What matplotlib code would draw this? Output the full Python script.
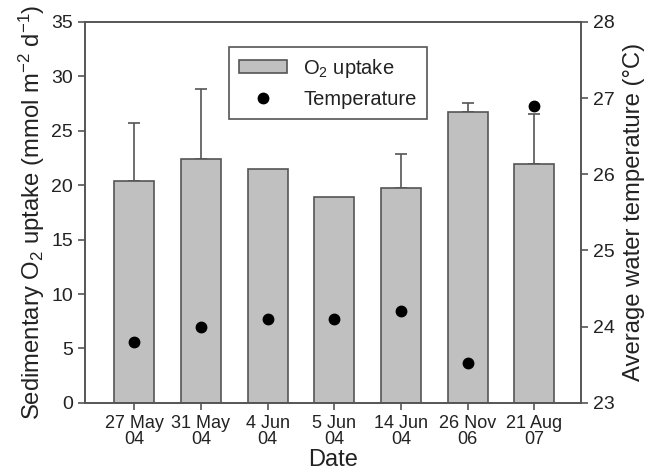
import numpy as np
import matplotlib
matplotlib.use('Agg')
import matplotlib.pyplot as plt

plt.rcParams['font.family'] = ['Liberation Sans', 'DejaVu Sans']
plt.rcParams['mathtext.default'] = 'regular'

dates = ['27 May\n04', '31 May\n04', '4 Jun\n04', '5 Jun\n04',
         '14 Jun\n04', '26 Nov\n06', '21 Aug\n07']
uptake = [20.4, 22.4, 21.5, 18.9, 19.7, 26.7, 21.9]
uptake_err = [5.3, 6.4, 0.0, 0.0, 3.2, 0.8, 4.6]
temperature = [23.80, 24.00, 24.10, 24.10, 24.20, 23.53, 26.90]

edge = '#555555'
text_col = '#222222'

fig, ax = plt.subplots(figsize=(6.58, 4.74), dpi=100)
fig.subplots_adjust(left=0.129, right=0.883, top=0.954, bottom=0.150)

x = np.arange(len(dates))
bars = ax.bar(x, uptake, width=0.6, color='#c0c0c0', edgecolor=edge,
              linewidth=1.2, label='O$_2$ uptake', zorder=2)

# only bars with an error value get a whisker
err = np.array(uptake_err)
has_err = err > 0
ax.errorbar(x[has_err], np.array(uptake)[has_err],
            yerr=[np.zeros(has_err.sum()), err[has_err]], fmt='none',
            ecolor=edge, elinewidth=1.2, capsize=4, capthick=1.2, zorder=1)

ax.set_xlim(-0.74, 6.7)
ax.set_ylim(0, 35)
ax.set_yticks(np.arange(0, 36, 5))
ax.set_xticks(x)
ax.set_xticklabels(dates, fontsize=13, color=text_col, linespacing=0.95)
ax.tick_params(axis='y', labelsize=14, labelcolor=text_col)
ax.tick_params(direction='out', length=5, width=1.2, color=edge)
for s in ax.spines.values():
    s.set_color(edge)
    s.set_linewidth(1.2)
ax.set_xlabel('Date', fontsize=17, color=text_col, labelpad=1)
ax.set_ylabel('Sedimentary O$_2$ uptake (mmol m$^{-2}$ d$^{-1}$)',
              fontsize=17.2, color=text_col, labelpad=3)

ax2 = ax.twinx()
dots, = ax2.plot(x, temperature, 'o', color='black', markersize=7.5,
                 label='Temperature', zorder=3)
ax2.set_ylim(23, 28)
ax2.set_yticks(np.arange(23, 29, 1))
ax2.tick_params(axis='y', labelsize=14, labelcolor=text_col,
                direction='out', length=5, width=1.2, color=edge)
for s in ax2.spines.values():
    s.set_color(edge)
    s.set_linewidth(1.2)
ax2.set_ylabel('Average water temperature (°C)', fontsize=17.2,
               color=text_col, labelpad=6)

leg = ax2.legend([bars, dots], ['O$_2$ uptake', 'Temperature'],
                 loc='upper left', bbox_to_anchor=(0.29, 0.935),
                 borderaxespad=0, fancybox=False, edgecolor=edge,
                 fontsize=14.5, handlelength=2.4, handleheight=0.65,
                 labelspacing=0.5, borderpad=0.5, framealpha=1)
leg.get_frame().set_linewidth(1.2)
for t in leg.get_texts():
    t.set_color(text_col)

fig.savefig('out.png', dpi=100)
